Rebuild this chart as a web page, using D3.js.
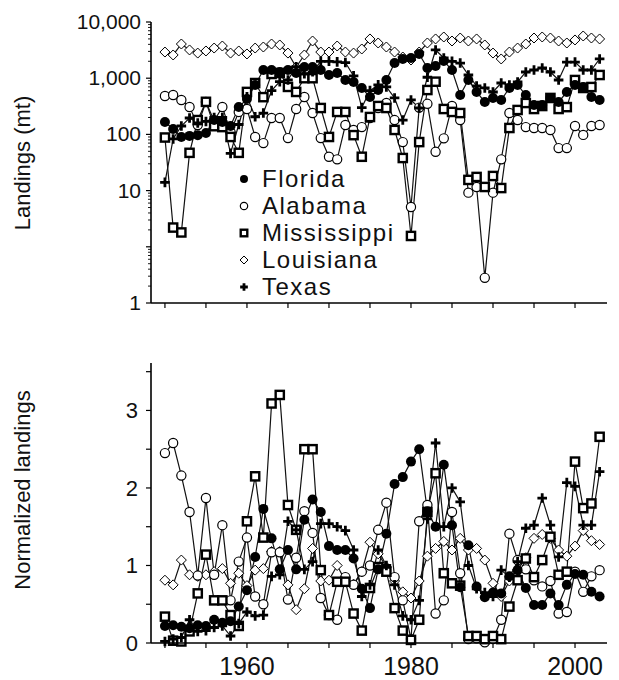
<!DOCTYPE html>
<html>
<head>
<meta charset="utf-8">
<script src="https://cdn.jsdelivr.net/npm/d3@7"></script>
<style>
body { margin: 0; background: #fff; }
svg { font-family: "Liberation Sans", Arial, sans-serif; }
</style>
</head>
<body>
<div id="main"></div>
<script>
// years 1950-2003
const years = d3.range(1950, 2004);

// landings (mt)
const floridaMt = [166,125,90,94,97,106,180,166,141,307,
  426,757,1400,1400,1290,1400,1240,1580,1580,1400,
  1140,1240,929,856,670,462,616,929,1862,2198,
  2290,2700,1518,1650,2022,1400,502,929,568,378,
  445,409,670,757,502,333,333,445,378,568,
  757,697,462,409];
const alabamaMt = [482,502,409,307,147,377,173,307,110,251,
  283,90,70,196,196,86,283,462,240,86,
  40,36,147,120,135,196,295,362,180,73,
  5.1,300,350,49,85,320,180,9.2,11.6,0.28,
  9.2,36,240,180,135,130,130,120,57,57,
  141,98,141,147];
const mississippiMt = [88,2.2,1.8,47,180,380,140,135,90,47,
  570,820,460,1190,1240,700,570,1000,1000,295,
  90,251,251,97,40,204,320,295,120,38,
  1.56,73,616,867,283,251,240,15.5,17.5,11.6,
  18.2,11.1,130,272,362,283,320,445,283,306,
  929,670,697,1140];
const louisianaMt = [2920,2590,4060,3180,2800,3050,3440,3740,2800,3050,
  2700,3440,3590,4060,3900,2800,1580,2590,4590,2920,
  2920,3740,2920,2800,3310,4990,4230,3590,2920,2380,
  2110,2920,4230,4990,5410,4590,5190,4590,4990,3900,
  2800,2200,2920,3440,4060,5190,5410,5190,4590,4230,
  4790,5640,5190,4990];
const texasMt = [14,83,141,196,160,170,200,200,46,150,
  465,206,240,600,870,930,1600,1200,1300,2000,
  2000,1950,1900,1100,300,600,760,700,445,180,
  410,295,1040,3180,2290,2000,1860,1140,726,670,
  568,822,757,856,1290,1400,1520,1290,929,1940,
  1940,1400,1400,2200];

// normalized landings
const floridaNorm = [0.22,0.23,0.21,0.19,0.23,0.22,0.30,0.26,0.28,0.47,
  0.68,1.11,1.73,1.35,0.95,1.20,0.95,1.59,1.85,1.69,
  1.25,1.20,1.20,1.09,0.70,0.45,0.95,1.41,2.05,2.14,
  2.34,2.50,1.70,1.50,2.30,1.52,0.72,1.26,0.73,0.59,
  0.65,0.64,0.86,0.94,0.71,0.49,0.49,0.64,0.49,0.75,
  0.89,0.88,0.66,0.60];
const alabamaNorm = [2.45,2.58,2.16,1.69,0.87,1.87,0.88,1.52,0.55,1.05,
  1.36,0.60,0.50,1.17,1.17,0.56,1.10,1.70,1.42,0.58,
  0.36,0.30,0.85,0.75,0.92,1.00,1.46,1.81,0.85,0.55,
  0.05,1.57,1.78,0.38,0.55,1.69,0.90,0.05,0.06,0.01,
  0.05,0.30,1.41,1.07,0.95,0.81,0.73,0.80,0.38,0.40,
  0.92,0.66,0.86,0.94];
const mississippiNorm = [0.34,0.03,0.02,0.15,0.64,1.14,0.55,0.55,0.36,0.22,
  1.57,2.15,1.36,3.09,3.20,1.78,1.46,2.50,2.50,0.94,
  0.36,0.79,0.79,0.38,0.16,0.71,0.98,0.92,0.45,0.16,
  0.04,0.30,1.69,2.19,0.90,0.77,0.74,0.09,0.09,0.05,
  0.09,0.05,0.47,0.81,1.09,0.85,1.07,1.37,0.88,0.92,
  2.34,1.74,1.80,2.66];
const louisianaNorm = [0.81,0.75,1.07,0.88,0.86,0.88,0.92,0.96,0.77,0.90,
  0.74,0.94,0.96,1.18,1.18,0.75,0.43,0.70,1.22,0.80,
  0.81,1.00,0.80,0.76,0.92,1.30,1.15,0.98,0.80,0.66,
  0.58,0.80,1.12,1.22,1.31,1.20,1.35,1.20,1.22,1.07,
  0.77,0.60,0.80,0.95,1.10,1.35,1.40,1.35,1.20,1.12,
  1.25,1.45,1.32,1.27];
const texasNorm = [0.02,0.05,0.07,0.30,0.15,0.16,0.20,0.22,0.09,0.25,
  0.40,0.35,0.36,0.86,0.88,1.57,1.46,0.95,1.05,1.54,
  1.54,1.50,1.45,1.20,0.60,0.75,1.20,1.00,0.75,0.35,
  0.30,0.55,1.60,2.58,1.50,2.00,1.82,1.00,0.70,0.65,
  0.60,0.94,0.85,1.05,1.48,1.52,1.87,1.52,1.11,2.07,
  2.02,1.52,1.52,2.21];

const states = ["Florida", "Alabama", "Mississippi", "Louisiana", "Texas"];
const markers = ["filled", "open", "square", "diamond", "plus"];

// axis ticks / labels
const topTickValues = [0.1, 10, 100, 1000, 10000];
const topTickLabels = ["1", "10", "100", "1,000", "10,000"];
const botTickValues = [0, 0.5, 1, 1.5, 2, 2.5, 3, 3.5];
const botTickLabels = ["0", "", "1", "", "2", "", "3", ""];
const xTickValues = [1950, 1955, 1960, 1965, 1970, 1975, 1980, 1985, 1990, 1995, 2000];
const xTickLabels = ["", "", "1960", "", "", "", "1980", "", "", "", "2000"];

const topSeries = [floridaMt, alabamaMt, mississippiMt, louisianaMt, texasMt];
const botSeries = [floridaNorm, alabamaNorm, mississippiNorm, louisianaNorm, texasNorm];

const svg = d3.select("#main").append("svg")
    .attr("width", 619)
    .attr("height", 680);

const x = d3.scaleLinear().domain([1948.3, 2003.9]).range([151, 607]);
const yTop = d3.scaleLog().domain([0.1, 10000]).range([303, 22]);
const yBot = d3.scaleLinear().domain([0, 3.612]).range([643, 363]);

function drawMarker(g, type, cx, cy, s) {
    if (type === "filled") {
        g.append("circle").attr("cx", cx).attr("cy", cy).attr("r", 5 * s).attr("fill", "#000");
    } else if (type === "open") {
        g.append("circle").attr("cx", cx).attr("cy", cy).attr("r", 4.6 * s)
            .attr("fill", "#fff").attr("stroke", "#000").attr("stroke-width", 1.2);
    } else if (type === "square") {
        g.append("rect").attr("x", cx - 4.1 * s).attr("y", cy - 4.1 * s)
            .attr("width", 8.2 * s).attr("height", 8.2 * s)
            .attr("fill", "#fff").attr("stroke", "#000").attr("stroke-width", 2.4);
    } else if (type === "diamond") {
        const r = 5 * s;
        g.append("path").attr("d", `M${cx},${cy - r}L${cx + r},${cy}L${cx},${cy + r}L${cx - r},${cy}Z`)
            .attr("fill", "#fff").attr("stroke", "#000").attr("stroke-width", 1);
    } else {
        const r = 4.8 * s;
        g.append("path").attr("d", `M${cx - r},${cy}H${cx + r}M${cx},${cy - r}V${cy + r}`)
            .attr("stroke", "#000").attr("stroke-width", 2.8);
    }
}

function drawPanel(series, yScale) {
    const g = svg.append("g");
    const line = d3.line()
        .x((d, i) => x(years[i]))
        .y(d => yScale(d));
    series.forEach(vals => {
        g.append("path").datum(vals)
            .attr("d", line)
            .attr("fill", "none")
            .attr("stroke", "#111")
            .attr("stroke-width", 1.2);
    });
    // markers on top of every line
    [3, 1, 2, 4, 0].forEach(k => {
        series[k].forEach((v, i) => drawMarker(g, markers[k], x(years[i]), yScale(v), 1));
    });
}

drawPanel(topSeries, yTop);
drawPanel(botSeries, yBot);

// ---- axes ----
const axisColor = "#000";

function xAxis(yPos, labels) {
    const g = svg.append("g").attr("transform", `translate(0,${yPos})`);
    g.append("line").attr("x1", 151).attr("x2", 607).attr("stroke", axisColor).attr("stroke-width", 1.6);
    xTickValues.forEach((t, i) => {
        g.append("line").attr("x1", x(t)).attr("x2", x(t)).attr("y1", 0).attr("y2", 5)
            .attr("stroke", axisColor).attr("stroke-width", 1.2);
        if (labels && xTickLabels[i]) {
            g.append("text").attr("x", x(t)).attr("y", 32)
                .attr("text-anchor", "middle").attr("font-size", 25)
                .attr("fill", "#111").text(xTickLabels[i]);
        }
    });
}
xAxis(303, false);
xAxis(643, true);

// top log axis
const gTop = svg.append("g");
gTop.append("line").attr("x1", 151).attr("x2", 151).attr("y1", 22).attr("y2", 303)
    .attr("stroke", axisColor).attr("stroke-width", 1.6);
d3.range(-1, 4).forEach(k => {
    d3.range(2, 10).forEach(m => {
        const yy = yTop(m * Math.pow(10, k));
        gTop.append("line").attr("x1", 148).attr("x2", 151).attr("y1", yy).attr("y2", yy)
            .attr("stroke", axisColor).attr("stroke-width", 0.9);
    });
});
[0.1, 1, 10, 100, 1000, 10000].forEach(t => {
    gTop.append("line").attr("x1", 146).attr("x2", 151).attr("y1", yTop(t)).attr("y2", yTop(t))
        .attr("stroke", axisColor).attr("stroke-width", 1.2);
});
topTickValues.forEach((t, i) => {
    gTop.append("text").attr("x", 141).attr("y", yTop(t) + 7)
        .attr("text-anchor", "end").attr("font-size", 21).attr("fill", "#111")
        .text(topTickLabels[i]);
});

// bottom linear axis
const gBot = svg.append("g");
gBot.append("line").attr("x1", 151).attr("x2", 151).attr("y1", 363).attr("y2", 643)
    .attr("stroke", axisColor).attr("stroke-width", 1.6);
botTickValues.forEach((t, i) => {
    gBot.append("line").attr("x1", 146).attr("x2", 151).attr("y1", yBot(t)).attr("y2", yBot(t))
        .attr("stroke", axisColor).attr("stroke-width", 1.2);
    if (botTickLabels[i]) {
        gBot.append("text").attr("x", 138).attr("y", yBot(t) + 8)
            .attr("text-anchor", "end").attr("font-size", 22).attr("fill", "#111")
            .text(botTickLabels[i]);
    }
});

// axis titles
svg.append("text").attr("transform", "translate(30,163) rotate(-90)")
    .attr("text-anchor", "middle").attr("font-size", 22).attr("fill", "#111")
    .text("Landings (mt)");
svg.append("text").attr("transform", "translate(30,490) rotate(-90)")
    .attr("text-anchor", "middle").attr("font-size", 22).attr("fill", "#111")
    .text("Normalized landings");

// legend
const leg = svg.append("g");
states.forEach((s, i) => {
    const base = 187 + i * 27;
    drawMarker(leg, markers[i], 244, base - 8, 0.8);
    leg.append("text").attr("x", 262).attr("y", base)
        .attr("font-size", 24).attr("letter-spacing", 1.5).attr("fill", "#111")
        .text(s);
});
</script>
</body>
</html>
